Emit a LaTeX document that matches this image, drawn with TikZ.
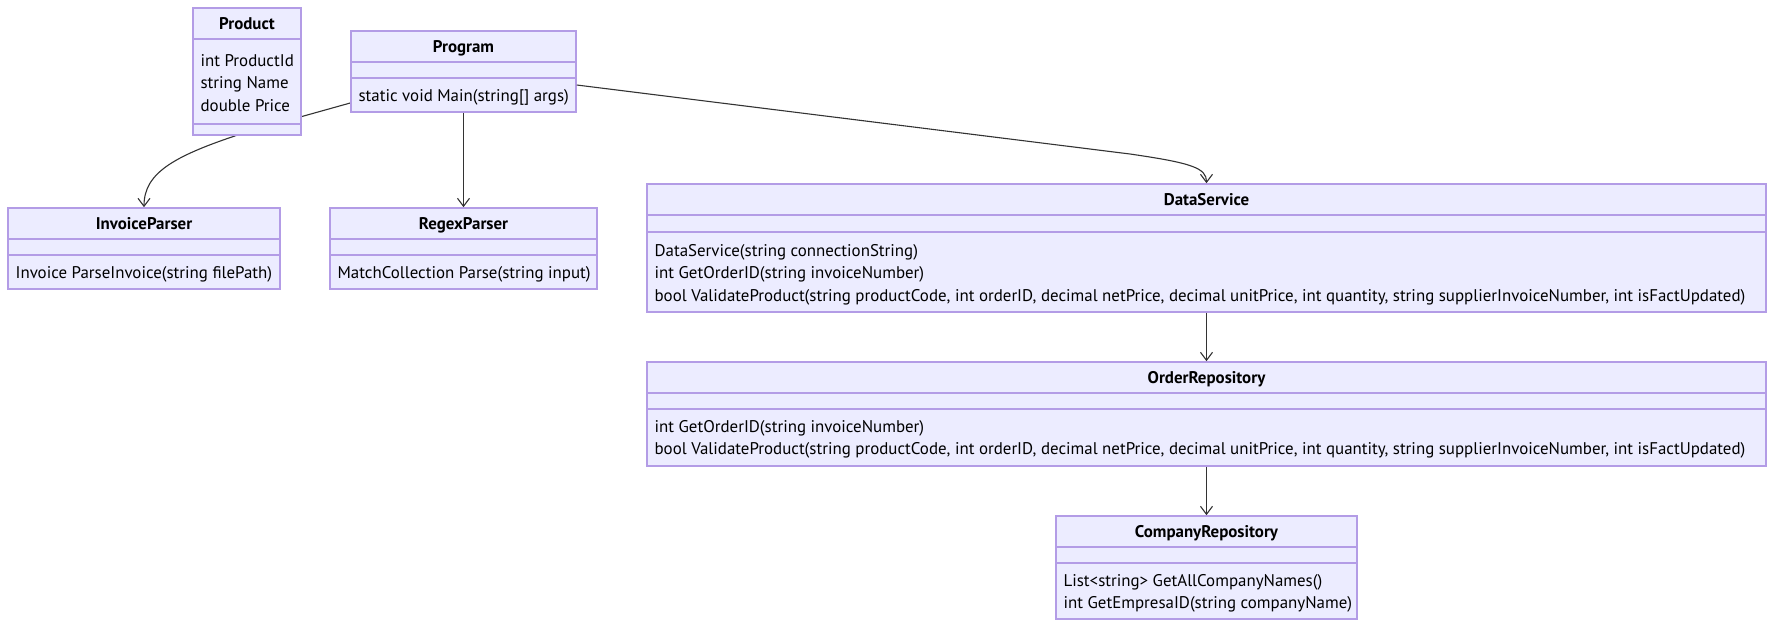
\documentclass[tikz,border=0pt]{standalone}
\usepackage{fontspec}
\setmainfont{PT Sans}
\usepackage{tikz}
\usetikzlibrary{arrows.meta,backgrounds,positioning,fit}
\definecolor{classfill}{HTML}{ECECFF}
\definecolor{classline}{HTML}{B39CE6}
\definecolor{edgeline}{HTML}{333333}
\tikzset{classrect/.style={draw=classline,fill=classfill,line width=0.8pt,inner sep=0,rectangle},
    classrule/.style={draw=classline,line width=0.8pt},
    classtitle/.style={font=\fontsize{8.45}{10}\selectfont\bfseries,inner sep=0,text height=0.72em,text depth=0.22em},
    member/.style={font=\fontsize{8.45}{10}\selectfont,anchor=west,inner sep=0,text height=0.72em,text depth=0.22em},
    dependency/.style={draw=edgeline,line width=0.55pt,-{Straight Barb[length=4pt,width=6pt]}}
}
\newcommand{\classbox}[8]
{
% args: (name, title, left x, top y, right x, bottom y, y of first rule, y of second rule)
    \node (#1) [classrect,fit={(#3,#4) (#5,#6)}] {};
    \draw [classrule] (#3,#7) -- (#5,#7);
    \draw [classrule] (#3,#8) -- (#5,#8);
    \pgfmathsetmacro\titley{(#4+#7)/2+1}
    \pgfmathsetmacro\midx{(#3+#5)/2}
    \node (#1title) [classtitle] at (\midx,\titley) {#2};
}
\newcommand{\classmembers}[3]
{
% args: (name of class, y of first line, list of lines in braces)
    \foreach \line [count=\i, evaluate=\i as \membery using #2+(\i-1)*22.8] in {#3}
        \node (#1m\i) [member,xshift=4pt] at (#1.west |- 0,\membery) {\line};
}

\begin{document}
\begin{tikzpicture}[x=0.5pt,y=-0.5pt]

\useasboundingbox (0,0) rectangle (1772,628);

%% classes

\classbox{Program}{Program}{351}{31}{576}{112}{62}{78}
\classmembers{Program}{96}{{static void Main(string[] args)}}

\classbox{Product}{Product}{193}{8}{301}{135}{39}{124}
\classmembers{Product}{61}{{int ProductId},{string Name},{double Price}}

\classbox{InvoiceParser}{InvoiceParser}{8}{208}{280}{289}{239}{255}
\classmembers{InvoiceParser}{273}{{Invoice ParseInvoice(string filePath)}}

\classbox{RegexParser}{RegexParser}{330}{208}{597}{289}{239}{255}
\classmembers{RegexParser}{273}{{MatchCollection Parse(string input)}}

\classbox{DataService}{DataService}{647}{184}{1766}{312}{215}{232}
\classmembers{DataService}{251}{{DataService(string connectionString)},{int GetOrderID(string invoiceNumber)},{bool ValidateProduct(string productCode, int orderID, decimal netPrice, decimal unitPrice, int quantity, string supplierInvoiceNumber, int isFactUpdated)}}

\classbox{OrderRepository}{OrderRepository}{647}{362}{1766}{466}{393}{409}
\classmembers{OrderRepository}{427}{{int GetOrderID(string invoiceNumber)},{bool ValidateProduct(string productCode, int orderID, decimal netPrice, decimal unitPrice, int quantity, string supplierInvoiceNumber, int isFactUpdated)}}

\classbox{CompanyRepository}{CompanyRepository}{1056}{516}{1357}{619}{547}{563}
\classmembers{CompanyRepository}{581}{{List<string> GetAllCompanyNames()},{int GetEmpresaID(string companyName)}}

%% dependencies (behind the boxes)

\begin{scope}[on background layer]
\draw [dependency] (Program.west |- 0,103) -- (250,131) .. controls (175,155) and (144,172) .. (InvoiceParser.north);
\end{scope}

\draw [dependency] (Program.south) -- (RegexParser.north);
\draw [dependency] (Program.east |- 0,85) -- (1130,154) .. controls (1192,163) and (1206.5,168) .. (DataService.north);
\draw [dependency] (DataService.south) -- (OrderRepository.north);
\draw [dependency] (OrderRepository.south) -- (CompanyRepository.north);

\end{tikzpicture}
\end{document}
